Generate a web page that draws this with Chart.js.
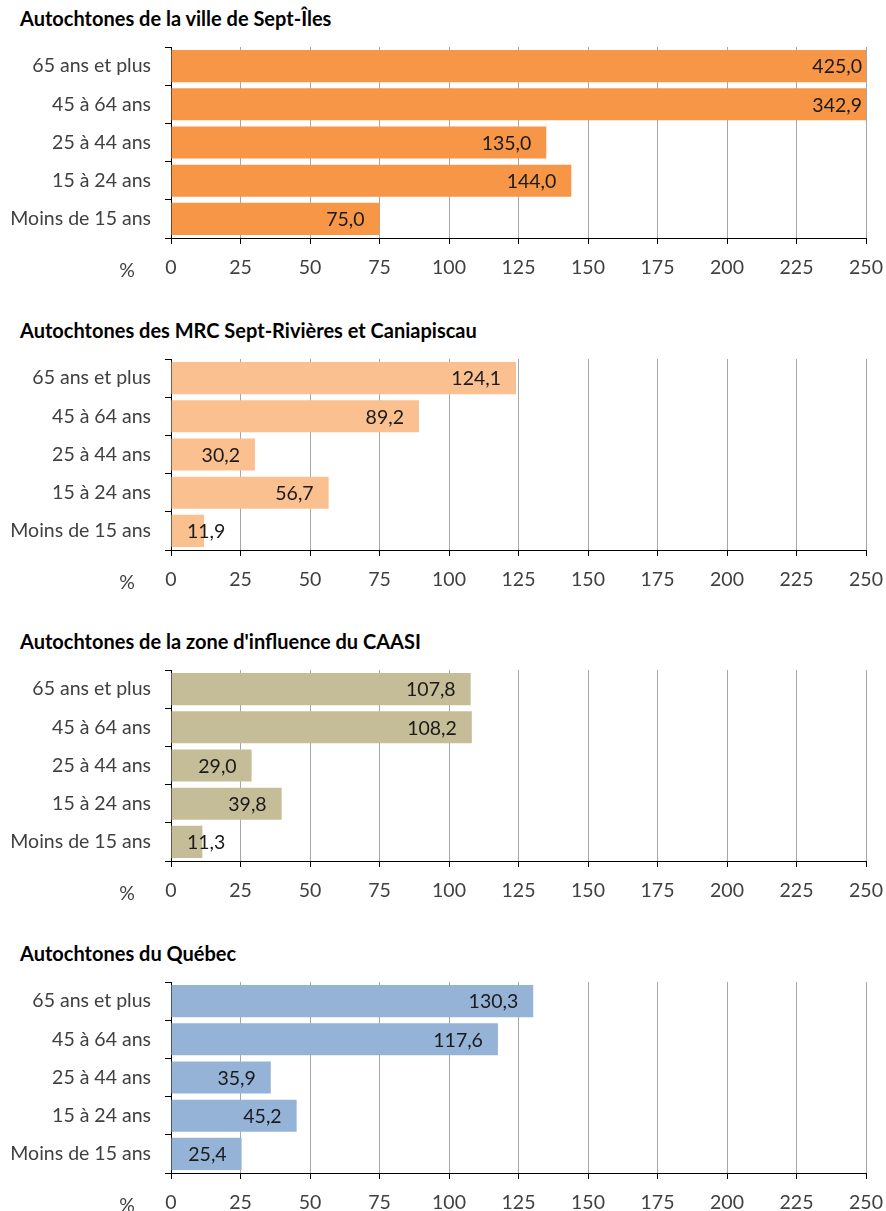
<!DOCTYPE html>
<html lang="fr">
<head>
<meta charset="utf-8">
<script src="https://cdn.jsdelivr.net/npm/chart.js@4"></script>
<style>
  body { margin: 0; background: #fff; width: 886px; height: 1211px; position: relative; overflow: hidden; }
  .title { position: absolute; left: 20px; font: bold 20px Lato, sans-serif; line-height: 24px; color: #000; white-space: nowrap; }
  canvas { position: absolute; left: 0; }
</style>
</head>
<body>
<script>
// catégories (du haut vers le bas)
const ageGroups = ['65 ans et plus', '45 à 64 ans', '25 à 44 ans', '15 à 24 ans', 'Moins de 15 ans'];
const xTicks = [0, 25, 50, 75, 100, 125, 150, 175, 200, 225, 250];

const titles = [
    'Autochtones de la ville de Sept-Îles',
    'Autochtones des MRC Sept-Rivières et Caniapiscau',
    "Autochtones de la zone d'influence du CAASI",
    'Autochtones du Québec'
];
const septIlesValues = [425.0, 342.9, 135.0, 144.0, 75.0];
const mrcValues = [124.1, 89.2, 30.2, 56.7, 11.9];
const caasiValues = [107.8, 108.2, 29.0, 39.8, 11.3];
const quebecValues = [130.3, 117.6, 35.9, 45.2, 25.4];
const barColors = ['#F79646', '#FAC090', '#C4BD97', '#95B3D7'];

const panels = [septIlesValues, mrcValues, caasiValues, quebecValues];

const FONT = 'Lato, sans-serif';
const FONT_SIZE = 19.5;
const X_MAX = 250;

// étiquettes de valeurs, à l'intérieur de l'extrémité des barres
const valueLabels = {
    id: 'valueLabels',
    afterDatasetsDraw(chart) {
        const ctx = chart.ctx;
        const area = chart.chartArea;
        const values = chart.data.datasets[0].data;
        const meta = chart.getDatasetMeta(0);
        ctx.save();
        ctx.font = FONT_SIZE + 'px ' + FONT;
        ctx.fillStyle = '#1a1a1a';
        ctx.textBaseline = 'middle';
        ctx.textAlign = 'left';
        meta.data.forEach((bar, i) => {
            const v = values[i];
            const text = v.toFixed(1).replace('.', ',');
            const w = ctx.measureText(text).width;
            let right = v > X_MAX ? area.right - 4 : bar.x - 15;
            let left = right - w;
            if (left < area.left + 16) left = area.left + 16;
            ctx.fillText(text, left, bar.y + 1);
        });
        ctx.restore();
    }
};

// le « % » à gauche des étiquettes de l'axe x
const percentLabel = {
    id: 'percentLabel',
    afterDraw(chart) {
        const ctx = chart.ctx;
        ctx.save();
        ctx.font = FONT_SIZE + 'px ' + FONT;
        ctx.fillStyle = '#404040';
        ctx.textAlign = 'center';
        ctx.textBaseline = 'middle';
        ctx.fillText('%', chart.chartArea.left - 44, chart.chartArea.bottom + 33);
        ctx.restore();
    }
};

panels.forEach((values, p) => {
    const top = Math.round(30 + p * 311.5);

    const title = document.createElement('div');
    title.className = 'title';
    title.style.top = (top - 24) + 'px';
    title.textContent = titles[p];
    document.body.appendChild(title);

    const canvas = document.createElement('canvas');
    canvas.style.top = top + 'px';
    canvas.style.width = '886px';
    canvas.style.height = '280px';
    canvas.width = 886;
    canvas.height = 280;
    document.body.appendChild(canvas);

    new Chart(canvas.getContext('2d'), {
        type: 'bar',
        data: {
            labels: ageGroups,
            datasets: [{
                data: values,
                backgroundColor: barColors[p],
                borderWidth: 0,
                barPercentage: 0.84,
                categoryPercentage: 1
            }]
        },
        options: {
            indexAxis: 'y',
            responsive: false,
            animation: false,
            devicePixelRatio: 1,
            layout: { padding: { top: 17, right: 20, left: 0, bottom: 0 } },
            plugins: {
                legend: { display: false },
                tooltip: { enabled: false }
            },
            scales: {
                x: {
                    min: 0,
                    max: X_MAX,
                    afterBuildTicks(scale) {
                        scale.ticks = xTicks.map(v => ({ value: v }));
                    },
                    afterFit(scale) {
                        scale.height = 72;
                        scale.paddingLeft = 0;
                        scale.paddingRight = 0;
                    },
                    ticks: {
                        font: { family: FONT, size: FONT_SIZE },
                        color: '#404040',
                        padding: 12,
                        maxRotation: 0
                    },
                    grid: {
                        color: '#a6a6a6',
                        lineWidth: 1,
                        tickLength: 6,
                        tickColor: '#000'
                    },
                    border: { color: '#000', width: 1 }
                },
                y: {
                    afterFit(scale) {
                        scale.width = 171;
                        scale.paddingTop = 0;
                        scale.paddingBottom = 0;
                    },
                    ticks: {
                        font: { family: FONT, size: FONT_SIZE },
                        color: '#404040',
                        padding: 14
                    },
                    grid: {
                        offset: true,
                        drawOnChartArea: false,
                        tickLength: 6,
                        tickColor: '#000'
                    },
                    border: { color: '#000', width: 1 }
                }
            }
        },
        plugins: [valueLabels, percentLabel]
    });
});
</script>
</body>
</html>
